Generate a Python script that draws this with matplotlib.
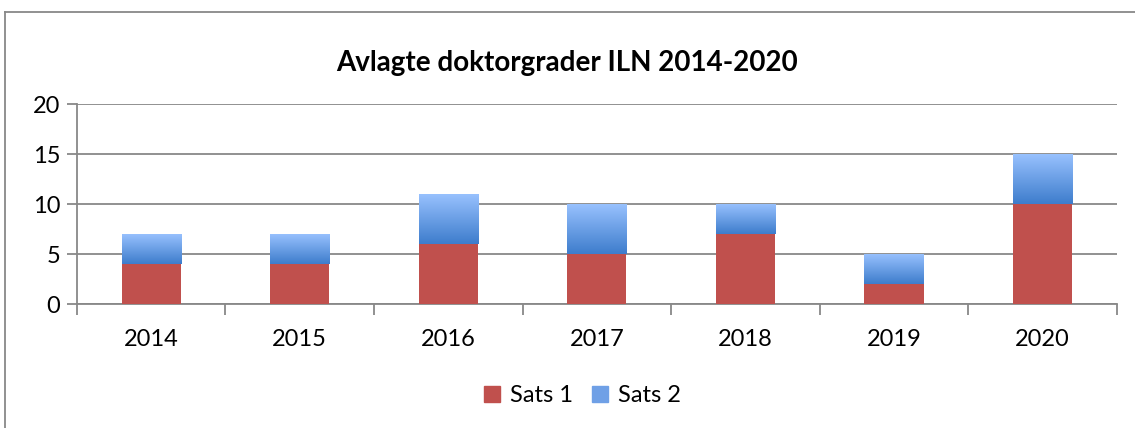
import numpy as np
import matplotlib.pyplot as plt
from matplotlib.colors import LinearSegmentedColormap
from matplotlib.patches import Rectangle
from matplotlib.lines import Line2D

plt.rcParams['font.family'] = ['Lato', 'DejaVu Sans']

years = ['2014', '2015', '2016', '2017', '2018', '2019', '2020']
sats1 = [4, 4, 6, 5, 7, 2, 10]
sats2 = [3, 3, 5, 5, 3, 3, 5]

fig = plt.figure(figsize=(11.35, 4.28), dpi=100)
ax = fig.add_axes([0.0678, 0.2897, 0.916, 0.4673])

# outer chart frame (top and left edges only visible)
fx, fy = 5 / 1135, 1 - 11.5 / 428
fig.lines.append(Line2D([fx, 1.0], [fy, fy], transform=fig.transFigure,
                        color='#888888', linewidth=1.3))
fig.lines.append(Line2D([fx, fx], [0, fy], transform=fig.transFigure,
                        color='#888888', linewidth=1.3))

x = np.arange(len(years))
w = 0.4
red = '#C0504D'
blue_cmap = LinearSegmentedColormap.from_list('b', ['#3E7DCC', '#99C2FF'])

b1 = ax.bar(x, sats1, width=w, color=red, zorder=3)
b2 = ax.bar(x, sats2, width=w, bottom=sats1, color='none', zorder=3)
grad = np.linspace(0, 1, 100).reshape(-1, 1)
for bar in b2:
    x0, y0 = bar.get_x(), bar.get_y()
    im = ax.imshow(grad, cmap=blue_cmap, origin='lower', aspect='auto',
                   extent=[x0, x0 + bar.get_width(), y0, y0 + bar.get_height()],
                   zorder=3)
    im.set_clip_path(bar)

ax.set_xlim(-0.5, len(years) - 0.5)
ax.set_ylim(0, 20)
ax.set_yticks([0, 5, 10, 15, 20])
ax.yaxis.grid(True, color='#888888', linewidth=1.3, zorder=0)
ax.set_axisbelow(True)

ax.set_xticks(x)
ax.set_xticklabels(years)
ax.set_xticks(np.arange(-0.5, len(years)), minor=True)
ax.tick_params(axis='x', which='major', length=0, pad=18, labelsize=17)
ax.tick_params(axis='x', which='minor', length=8, color='#888888', width=1.3)
ax.tick_params(axis='y', length=7, color='#888888', width=1.3, labelsize=17, pad=5)

for s in ['top', 'right']:
    ax.spines[s].set_visible(False)
for s in ['left', 'bottom']:
    ax.spines[s].set_color('#888888')
    ax.spines[s].set_linewidth(1.3)

fig.text(0.5, 0.853, 'Avlagte doktorgrader ILN 2014-2020', ha='center', va='center',
         fontsize=20, fontweight='bold')

h1 = Rectangle((0, 0), 1, 1, color=red)
h2 = Rectangle((0, 0), 1, 1, color='#6FA0E6')
fig.legend([h1, h2], ['Sats 1', 'Sats 2'], loc='center', bbox_to_anchor=(0.513, 0.075),
           ncol=2, frameon=False, fontsize=17, handlelength=0.7, handleheight=0.7,
           handletextpad=0.4, columnspacing=0.8)

fig.savefig('out.png', dpi=100)
